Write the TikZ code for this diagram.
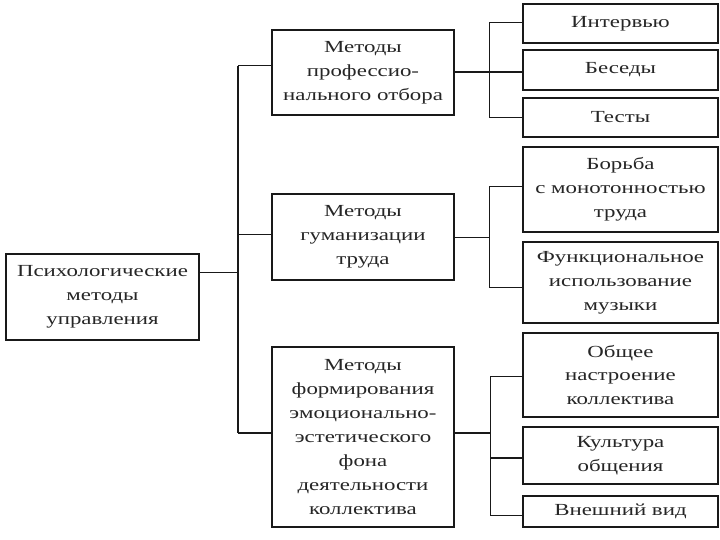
\documentclass[tikz,border=0pt]{standalone}
\usepackage{fontspec}
\newfontfamily\rfont[FakeStretch=1.35]{Liberation Serif}
\newcommand\boxfont{\rfont\fontsize{17}{24}\selectfont}
\begin{document}
\begin{tikzpicture}[x=1bp,y=-1bp,
  box/.style={draw=black!90, line width=1.3bp, align=center, inner sep=0pt, font=\boxfont, text=black!85},
  lw/.style={minimum width=182bp},
  rw/.style={minimum width=195bp},
  thin/.style={draw=black!90, line width=1bp},
  thick/.style={draw=black!90, line width=1.8bp}]
\useasboundingbox[fill=white] (0,0) rectangle (720,540);
% root
\node[box, minimum width=193bp, minimum height=86bp] (root) at (102.5,297) {Психологические\\методы\\управления};
% middle column
\node[box, lw, minimum height=85bp] (b1) at (363,72.5) {Методы\\профессио-\\нального отбора};
\node[box, lw, minimum height=86bp] (b2) at (363,237) {Методы\\гуманизации\\труда};
\node[box, lw, minimum height=180bp] (b3) at (363,437) {Методы\\формирования\\эмоционально-\\эстетического\\фона\\деятельности\\коллектива};
% right column
\node[box, rw, minimum height=39bp] (r11) at (620.5,23.5) {Интервью};
\node[box, rw, minimum height=40bp] (r12) at (620.5,70) {Беседы};
\node[box, rw, minimum height=39bp] (r13) at (620.5,117.5) {Тесты};
\node[box, rw, minimum height=85bp] (r21) at (620.5,189.5) {Борьба\\с монотонностью\\труда};
\node[box, rw, minimum height=81bp] (r22) at (620.5,282.5) {Функциональное\\использование\\музыки};
\node[box, rw, minimum height=84bp] (r31) at (620.5,375) {Общее\\настроение\\коллектива};
\node[box, rw, minimum height=57bp] (r32) at (620.5,455.5) {Культура\\общения};
\node[box, rw, minimum height=31bp] (r33) at (620.5,511.5) {Внешний вид};
% left bus coordinates
\coordinate (lroot) at (238,272);
\coordinate (l1) at (238,66);
\coordinate (l2) at (238,235);
\coordinate (l3) at (238,433);
\draw[thick] (l1) -- (l3);
\draw[thin] (root.east |- lroot) -- (lroot);
\draw[thin] (l1) -- (b1.west |- l1);
\draw[thin] (l2) -- (b2.west |- l2);
\draw[thick] (l3) -- (b3.west |- l3);
% right bus 1
\coordinate (m1) at (489,72);
\coordinate (m11) at (489,23);
\coordinate (m13) at (489,118);
\draw[thin] (m11) -- (m13);
\draw[thin] (m11) -- (r11.west |- m11);
\draw[thin] (m13) -- (r13.west |- m13);
\draw[thick] (b1.east |- m1) -- (r12.west |- m1);
% right bus 2
\coordinate (m2) at (489,238);
\coordinate (m21) at (489,187);
\coordinate (m22) at (489,287);
\draw[thin] (m21) -- (m22);
\draw[thin] (m21) -- (r21.west |- m21);
\draw[thin] (m22) -- (r22.west |- m22);
\draw[thin] (b2.east |- m2) -- (m2);
% right bus 3
\coordinate (m3) at (490,433);
\coordinate (m31) at (490,376);
\coordinate (m32) at (490,458);
\coordinate (m33) at (490,515);
\draw[thin] (m31) -- (m33);
\draw[thin] (m31) -- (r31.west |- m31);
\draw[thick] (m32) -- (r32.west |- m32);
\draw[thin] (m33) -- (r33.west |- m33);
\draw[thick] (b3.east |- m3) -- (m3);
\end{tikzpicture}
\end{document}
